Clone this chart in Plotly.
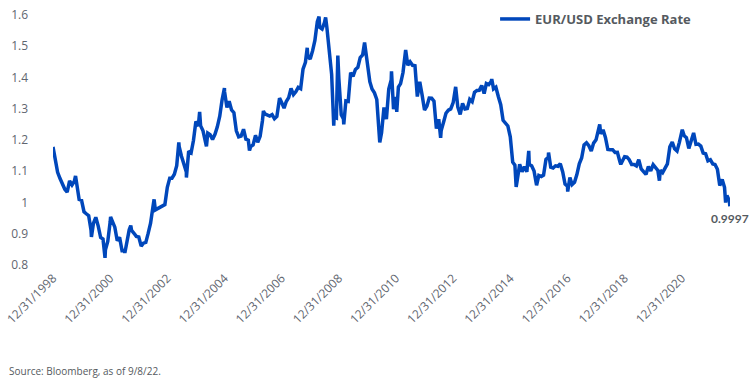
import pandas as pd
import plotly.graph_objects as go

# Month-end EUR/USD values (Jan..Dec)
eur_1999 = [1.1305, 1.0965, 1.0765, 1.0590, 1.0425, 1.0335, 1.0690, 1.0560, 1.0680, 1.0560, 1.0095, 1.0070]
eur_2000 = [0.9705, 0.9640, 0.9575, 0.9115, 0.9335, 0.9525, 0.9245, 0.8880, 0.8830, 0.8490, 0.8755, 0.9390]
eur_2001 = [0.9380, 0.9210, 0.8775, 0.8885, 0.8465, 0.8480, 0.8775, 0.9125, 0.9110, 0.9015, 0.8915, 0.8895]
eur_2002 = [0.8605, 0.8700, 0.8725, 0.9010, 0.9335, 0.9860, 0.9765, 0.9810, 0.9870, 0.9890, 0.9935, 1.0485]
eur_2003 = [1.0780, 1.0780, 1.0905, 1.1175, 1.1795, 1.1480, 1.1225, 1.0980, 1.1645, 1.1590, 1.1985, 1.2595]
eur_2004 = [1.2445, 1.2460, 1.2295, 1.1960, 1.2220, 1.2170, 1.2020, 1.2180, 1.2420, 1.2760, 1.3285, 1.3555]
eur_2005 = [1.3040, 1.3245, 1.2960, 1.2875, 1.2295, 1.2100, 1.2125, 1.2345, 1.2025, 1.1995, 1.1790, 1.1845]
eur_2006 = [1.2150, 1.1925, 1.2115, 1.2625, 1.2835, 1.2790, 1.2765, 1.2810, 1.2680, 1.2755, 1.3245, 1.3200]
eur_2007 = [1.3020, 1.3230, 1.3355, 1.3650, 1.3450, 1.3540, 1.3685, 1.3640, 1.4265, 1.4485, 1.4685, 1.4590]
eur_2008 = [1.4860, 1.5185, 1.5790, 1.5605, 1.5550, 1.5755, 1.5605, 1.4675, 1.4100, 1.2725, 1.2700, 1.3970]
eur_2009 = [1.2805, 1.2670, 1.3250, 1.3235, 1.4155, 1.4035, 1.4255, 1.4325, 1.4640, 1.4720, 1.5010, 1.4325]
eur_2010 = [1.3865, 1.3630, 1.3510, 1.3295, 1.2305, 1.2235, 1.3045, 1.2670, 1.3630, 1.3920, 1.2985, 1.3380]
eur_2011 = [1.3695, 1.3805, 1.4160, 1.4805, 1.4395, 1.4500, 1.4390, 1.4375, 1.3390, 1.3865, 1.3445, 1.2960]
eur_2012 = [1.3085, 1.3345, 1.3340, 1.3240, 1.2365, 1.2665, 1.2305, 1.2575, 1.2855, 1.2955, 1.2995, 1.3195]
eur_2013 = [1.3575, 1.3060, 1.2820, 1.3170, 1.2995, 1.3010, 1.3300, 1.3225, 1.3525, 1.3585, 1.3590, 1.3745]
eur_2014 = [1.3485, 1.3805, 1.3770, 1.3870, 1.3635, 1.3690, 1.3390, 1.3130, 1.2630, 1.2525, 1.2450, 1.2100]
eur_2015 = [1.1290, 1.1195, 1.0730, 1.1225, 1.0985, 1.1145, 1.0985, 1.1210, 1.1175, 1.1005, 1.0565, 1.0865]
eur_2016 = [1.0830, 1.0875, 1.1380, 1.1450, 1.1130, 1.1105, 1.1175, 1.1160, 1.1240, 1.0980, 1.0590, 1.0520]
eur_2017 = [1.0800, 1.0575, 1.0650, 1.0895, 1.1240, 1.1425, 1.1840, 1.1910, 1.1815, 1.1645, 1.1900, 1.2005]
eur_2018 = [1.2415, 1.2195, 1.2325, 1.2080, 1.1695, 1.1685, 1.1690, 1.1600, 1.1605, 1.1310, 1.1315, 1.1465]
eur_2019 = [1.1450, 1.1370, 1.1215, 1.1215, 1.1170, 1.1370, 1.1075, 1.0985, 1.0900, 1.1150, 1.1015, 1.1210]
eur_2020 = [1.1095, 1.1025, 1.1030, 1.0955, 1.1100, 1.1235, 1.1780, 1.1935, 1.1720, 1.1650, 1.1925, 1.2215]
eur_2021 = [1.2135, 1.2075, 1.1730, 1.2020, 1.2225, 1.1860, 1.1870, 1.1805, 1.1580, 1.1560, 1.1335, 1.1370]
eur_2022 = [1.1235, 1.1215, 1.1065, 1.0545, 1.0735, 1.0485, 1.0225, 1.0055]

# Intra-month extremes and end points
extra_dates = ["1998-12-31", "1999-10-15", "2000-05-05", "2000-10-26", "2001-01-05", "2001-07-06",
               "2001-09-20", "2002-07-15", "2003-05-27", "2003-09-01", "2004-02-17", "2004-05-14",
               "2004-12-30", "2005-11-15", "2006-05-12", "2006-12-04", "2007-11-23", "2008-04-22",
               "2008-07-15", "2008-10-27", "2008-12-18", "2009-03-04", "2009-11-25", "2010-06-07",
               "2010-11-04", "2011-01-10", "2011-05-04", "2012-07-24", "2013-02-01", "2014-05-08",
               "2015-03-16", "2015-08-24", "2015-12-02", "2016-05-03", "2017-01-03", "2018-02-16",
               "2018-11-12", "2020-03-20", "2021-01-06", "2022-07-14", "2022-09-06", "2022-09-08"]
extra_values = [1.1780, 1.0850, 0.8900, 0.8230, 0.9540, 0.8385,
                0.9260, 1.0100, 1.1920, 1.0800, 1.2900, 1.1800,
                1.3660, 1.1660, 1.2930, 1.3340, 1.4950, 1.5950,
                1.5920, 1.2460, 1.4700, 1.2500, 1.5120, 1.1920,
                1.4200, 1.2900, 1.4880, 1.2070, 1.3700, 1.3950,
                1.0500, 1.1650, 1.0550, 1.1600, 1.0350, 1.2500,
                1.1220, 1.0700, 1.2330, 1.0000, 0.9880, 0.9997]

tick_dates = ["1998-12-31", "2000-12-31", "2002-12-31", "2004-12-31", "2006-12-31", "2008-12-31",
              "2010-12-31", "2012-12-31", "2014-12-31", "2016-12-31", "2018-12-31", "2020-12-31"]
tick_labels = ["12/31/1998", "12/31/2000", "12/31/2002", "12/31/2004", "12/31/2006", "12/31/2008",
               "12/31/2010", "12/31/2012", "12/31/2014", "12/31/2016", "12/31/2018", "12/31/2020"]
y_ticks = [0.8, 0.9, 1.0, 1.1, 1.2, 1.3, 1.4, 1.5, 1.6]
y_labels = ["0.8", "0.9", "1", "1.1", "1.2", "1.3", "1.4", "1.5", "1.6"]
last_value = 0.9997
last_date = "2022-09-08"

monthly = (eur_1999 + eur_2000 + eur_2001 + eur_2002 + eur_2003 + eur_2004 + eur_2005 + eur_2006 +
           eur_2007 + eur_2008 + eur_2009 + eur_2010 + eur_2011 + eur_2012 + eur_2013 + eur_2014 +
           eur_2015 + eur_2016 + eur_2017 + eur_2018 + eur_2019 + eur_2020 + eur_2021 + eur_2022)
month_dates = pd.date_range("1999-01-31", periods=len(monthly), freq="ME")

df = pd.concat([
    pd.DataFrame({"date": month_dates, "value": monthly}),
    pd.DataFrame({"date": pd.to_datetime(extra_dates), "value": extra_values}),
]).sort_values("date")

BLUE = "#0047BB"
GREY = "#5f6670"
FONT = "Open Sans"

fig = go.Figure()
fig.add_trace(go.Scatter(x=df["date"], y=df["value"], mode="lines",
                         line=dict(color=BLUE, width=3.5), name="EUR/USD Exchange Rate"))

fig.update_layout(
    width=754, height=386,
    margin=dict(l=53, r=24, t=15, b=121, autoexpand=False),
    paper_bgcolor="white", plot_bgcolor="white",
    font=dict(family=FONT, size=12, color=GREY),
    showlegend=True,
    legend=dict(x=0.653, y=1.044, xanchor="left", yanchor="top",
                font=dict(family=FONT, size=13, color="#555a60", weight="bold"),
                bgcolor="rgba(0,0,0,0)"),
    xaxis=dict(type="date", range=["1998-12-31", "2022-09-08"], tickvals=tick_dates,
               ticktext=tick_labels, tickangle=-45, showgrid=False, zeroline=False,
               showline=False, ticks="", ticklabelstandoff=3,
               tickfont=dict(family=FONT, size=12, color=GREY)),
    yaxis=dict(range=[0.8, 1.6], tickvals=y_ticks, ticktext=y_labels, showgrid=False,
               zeroline=False, showline=False, ticks="", ticklabelstandoff=24,
               tickfont=dict(family=FONT, size=12, color=GREY)),
)

fig.add_annotation(x=last_date, y=last_value, text="0.9997", showarrow=False, yshift=-16,
                   xanchor="center", font=dict(family="Lato", size=12, color="#555a60", weight="bold"))
fig.add_annotation(xref="paper", yref="paper", x=-0.068, y=-0.424, xanchor="left", yanchor="middle",
                   text="Source: Bloomberg, as of 9/8/22.", showarrow=False,
                   font=dict(family=FONT, size=10, color="#555a60"))

fig.write_html("out.html")
